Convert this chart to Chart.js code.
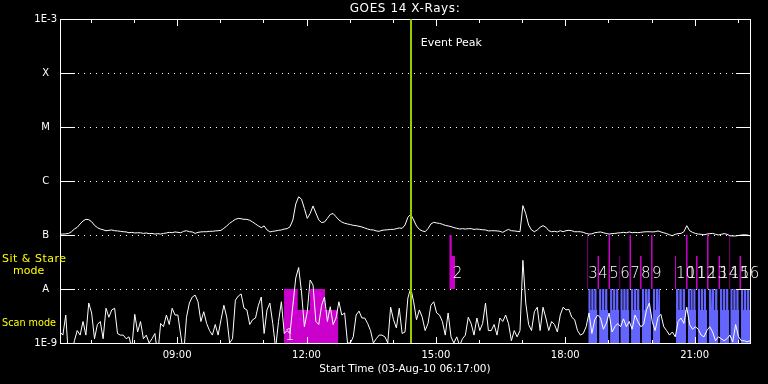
<!DOCTYPE html>
<html>
<head>
<meta charset="utf-8">
<script src="https://cdn.jsdelivr.net/npm/chart.js@4.4.0/dist/chart.umd.min.js"></script>
<style>
  html, body { margin: 0; padding: 0; background: #000; }
  canvas { display: block; }
</style>
</head>
<body>
<canvas id="goes" width="768" height="384"></canvas>
<script>
// GOES 14 X-ray flux, 03-Aug-2010, one sample every 4 minutes
const startTime = '06:17';
const endTime = '22:17';
const sampleMinutes = 4;

// 1-8 A channel, units of 1e-7 W/m2
const longFlux = [
  1.04, 1.04, 1.05, 1.07, 1.15, 1.29, 1.39, 1.60, 1.82, 1.95,
  1.92, 1.76, 1.51, 1.37, 1.29, 1.25, 1.20, 1.22, 1.24, 1.20,
  1.19, 1.17, 1.15, 1.14, 1.10, 1.12, 1.09, 1.10, 1.10, 1.07,
  1.09, 1.06, 1.07, 1.04, 1.06, 1.04, 1.07, 1.09, 1.12, 1.10,
  1.14, 1.12, 1.10, 1.17, 1.20, 1.15, 1.14, 1.07, 1.12, 1.14,
  1.15, 1.15, 1.17, 1.17, 1.19, 1.20, 1.22, 1.33, 1.47, 1.65,
  1.79, 1.95, 2.03, 2.00, 1.95, 1.95, 1.87, 1.74, 1.60, 1.47,
  1.37, 1.47, 1.24, 1.14, 1.17, 1.19, 1.22, 1.24, 1.29, 1.31,
  1.42, 1.90, 3.75, 5.10, 4.60, 3.10, 2.03, 2.50, 3.45, 2.55,
  1.90, 1.70, 1.74, 2.03, 2.40, 2.50, 2.18, 1.90, 1.74, 1.65,
  1.60, 1.56, 1.51, 1.49, 1.45, 1.41, 1.35, 1.29, 1.25, 1.24,
  1.19, 1.17, 1.22, 1.24, 1.25, 1.27, 1.27, 1.31, 1.35, 1.33,
  1.53, 2.13, 2.42, 1.90, 1.47, 1.27, 1.19, 1.15, 1.31, 1.60,
  1.72, 1.67, 1.64, 1.58, 1.51, 1.47, 1.43, 1.37, 1.33, 1.29,
  1.31, 1.29, 1.31, 1.31, 1.27, 1.29, 1.27, 1.25, 1.24, 1.19,
  1.20, 1.20, 1.19, 1.17, 1.12, 1.20, 1.27, 1.20, 1.19, 1.17,
  1.15, 3.50, 2.50, 1.53, 1.24, 1.15, 1.24, 1.39, 1.49, 1.39,
  1.20, 1.15, 1.17, 1.14, 1.20, 1.15, 1.20, 1.22, 1.20, 1.15,
  1.15, 1.15, 1.12, 1.07, 1.04, 1.05, 1.10, 1.12, 1.14, 1.10,
  1.07, 1.04, 1.06, 1.07, 1.09, 1.10, 1.12, 1.10, 1.14, 1.10,
  1.12, 1.10, 1.12, 1.14, 1.15, 1.15, 1.14, 1.15, 1.19, 1.14,
  1.10, 1.06, 1.01, 0.97, 1.03, 1.06, 1.07, 1.15, 1.49, 1.20,
  1.12, 1.07, 1.04, 1.03, 1.01, 1.04, 1.06, 1.07, 1.03, 1.00,
  1.03, 1.06, 1.03, 0.97, 0.96, 0.96, 0.98, 1.00, 1.01, 1.00,
  0.97
];

// 0.5-4 A channel, units of 1e-9 W/m2 (below 1 falls off the plot)
const shortFlux = [
  1.6, 1.4, 3.3, 0.5, 0.6, 1.1, 1.7, 1.4, 2.5, 1.4,
  5.5, 3.6, 1.2, 2.2, 2.5, 1.2, 4.4, 3.0, 4.1, 4.4,
  1.5, 1.4, 1.4, 1.2, 1.3, 0.8, 3.4, 1.6, 2.5, 1.2,
  1.4, 1.0, 1.2, 1.5, 0.6, 2.3, 2.0, 3.3, 2.2, 4.4,
  3.3, 3.3, 1.4, 0.6, 3.0, 5.5, 7.1, 7.7, 5.8, 2.5,
  3.8, 2.3, 1.7, 1.4, 2.2, 1.4, 2.7, 5.0, 3.0, 1.0,
  1.2, 6.2, 7.4, 8.1, 4.4, 4.1, 2.2, 2.7, 2.9, 5.0,
  7.1, 1.5, 4.1, 5.5, 2.3, 0.8, 2.5, 5.8, 1.5, 1.7,
  1.5, 5.0, 16, 25, 8.8, 2.0, 3.8, 14.7, 11.9, 2.5,
  2.2, 5.0, 7.1, 2.5, 4.7, 2.2, 2.9, 5.8, 3.3, 3.6,
  1.0, 1.0, 1.3, 3.3, 3.9, 2.9, 2.9, 2.3, 1.7, 1.0,
  1.2, 1.4, 1.4, 1.3, 1.0, 4.6, 2.7, 1.9, 4.4, 1.5,
  1.6, 6.8, 10.4, 5.8, 2.7, 4.1, 3.0, 1.7, 2.3, 5.0,
  5.8, 3.6, 3.3, 2.5, 1.4, 3.6, 1.3, 1.0, 1.3, 0.9,
  1.2, 1.4, 3.0, 2.3, 1.4, 2.9, 1.7, 2.3, 5.5, 1.7,
  1.7, 2.2, 1.4, 2.9, 2.5, 3.3, 2.3, 1.1, 1.7, 1.3,
  1.7, 34, 5.5, 2.2, 1.7, 3.8, 4.6, 1.7, 4.6, 2.9,
  1.7, 2.5, 2.2, 1.6, 3.3, 4.6, 4.1, 4.2, 3.0, 2.7,
  1.7, 1.4, 1.5, 2.0, 3.6, 1.5, 2.7, 3.3, 2.9, 1.8,
  2.3, 3.6, 1.6, 2.0, 2.3, 2.0, 2.8, 2.0, 2.5, 1.8,
  3.3, 2.5, 2.0, 2.2, 4.1, 5.5, 2.5, 1.7, 3.0, 3.4,
  2.0, 1.7, 1.4, 1.6, 1.3, 2.5, 2.9, 2.3, 4.6, 2.2,
  1.8, 2.0, 1.8, 1.4, 1.3, 1.7, 2.0, 1.6, 1.1, 1.3,
  1.2, 1.1, 1.2, 1.4, 1.05, 2.2, 1.3, 1.1, 1.1, 1.05,
  1.1
];

const eventPeakTime = '14:25';

// scan mode rasters: [time, level in 1e-9 W/m2], null = no scan
const scanSteps = [
  ['18:32.0', 10], ['18:35.1', 4.1], ['18:36.2', 10], ['18:39.3', 4.1], ['18:40.4', 10], ['18:43.5', 4.1], ['18:44.6', null],
  ['18:47.0', 10], ['18:50.1', 4.1], ['18:51.2', 10], ['18:54.3', 4.1], ['18:55.4', 10], ['18:58.5', 4.1], ['18:59.9', null],
  ['19:02.3', 10], ['19:05.4', 4.1], ['19:06.5', 10], ['19:09.6', 4.1], ['19:10.7', 10], ['19:13.8', 4.1], ['19:15.2', null],
  ['19:16.6', 10], ['19:19.7', 4.1], ['19:20.8', 10], ['19:23.9', 4.1], ['19:25.0', 10], ['19:28.1', 4.1], ['19:29.1', null],
  ['19:31.5', 10], ['19:34.6', 4.1], ['19:35.7', 10], ['19:38.8', 4.1], ['19:39.9', 10], ['19:43.0', 4.1], ['19:44.0', null],
  ['19:46.4', 10], ['19:49.5', 4.1], ['19:50.6', 10], ['19:53.7', 4.1], ['19:54.8', 10], ['19:57.9', 4.1], ['19:59.3', null],
  ['20:01.7', 10], ['20:04.8', 4.1], ['20:05.9', 10], ['20:09.0', 4.1], ['20:10.1', 10], ['20:11.8', null],
  ['20:34.1', 10], ['20:37.5', 4.1], ['20:38.7', 10], ['20:42.1', 4.1], ['20:43.3', 10], ['20:46.7', 4.1], ['20:48.0', null],
  ['20:50.4', 10], ['20:53.3', 4.1], ['20:54.3', 10], ['20:57.2', 4.1], ['20:58.2', 10], ['21:01.1', 4.1], ['21:01.9', null],
  ['21:04.3', 10], ['21:07.4', 4.1], ['21:08.5', 10], ['21:11.6', 4.1], ['21:12.7', 10], ['21:15.8', 4.1], ['21:17.2', null],
  ['21:19.6', 10], ['21:22.8', 4.1], ['21:24.0', 10], ['21:27.2', 4.1], ['21:28.4', 10], ['21:31.6', 4.1], ['21:32.9', null],
  ['21:35.3', 10], ['21:38.4', 4.1], ['21:39.5', 10], ['21:42.6', 4.1], ['21:43.7', 10], ['21:46.8', 4.1], ['21:48.2', null],
  ['21:49.6', 10], ['21:52.7', 4.1], ['21:53.8', 10], ['21:56.9', 4.1], ['21:58.0', 10], ['22:01.1', 4.1], ['22:02.1', null],
  ['22:04.5', 10], ['22:07.6', 4.1], ['22:08.7', 10], ['22:11.8', 4.1], ['22:12.9', 10], ['22:16.0', 4.1], ['22:17.0', null]
];

// first sit & stare run, drawn in the scan band (1e-9 W/m2)
const firstRunSteps = [
  ['11:28.7', 10], ['11:47.7', 4.1], ['12:04.8', 10], ['12:25.7', 4.1], ['12:44.2', null]
];

// later sit & stare runs, sit band (levels in 1e-8 W/m2)
const sitSteps = [
  ['15:18.6', 10], ['15:22.0', 4.1], ['15:26.6', null],
  ['18:30.6', 10], ['18:32.0', null],
  ['18:44.6', 4.1], ['18:47.0', null],
  ['18:59.9', 10], ['19:02.3', null],
  ['19:15.2', 4.1], ['19:16.6', null],
  ['19:29.1', 10], ['19:31.5', null],
  ['19:44.0', 4.1], ['19:46.4', null],
  ['19:59.3', 10], ['20:01.7', null],
  ['20:32.7', 4.1], ['20:34.1', null],
  ['20:48.0', 10], ['20:50.4', null],
  ['21:01.9', 4.1], ['21:04.3', null],
  ['21:17.2', 10], ['21:19.6', null],
  ['21:32.9', 4.1], ['21:35.3', null],
  ['21:48.2', 10], ['21:49.6', null],
  ['22:02.1', 4.1], ['22:04.5', null]
];

const runNumbers = ['1', '2', '3', '4', '5', '6', '7', '8', '9', '10', '11', '12', '13', '14', '15', '16'];
const runTimes = ['11:28.7', '15:22.0', '18:30.6', '18:44.6', '18:59.9', '19:15.2', '19:29.1', '19:44.0',
  '19:59.3', '20:32.7', '20:48.0', '21:01.9', '21:17.2', '21:32.9', '21:48.2', '22:02.1'];
const runBands = ['scan', 'sit', 'sit', 'sit', 'sit', 'sit', 'sit', 'sit',
  'sit', 'sit', 'sit', 'sit', 'sit', 'sit', 'sit', 'sit'];

const hourTicks = [7, 8, 9, 10, 11, 12, 13, 14, 15, 16, 17, 18, 19, 20, 21, 22];
const yTickValues = [1e-9, 1e-8, 1e-7, 1e-6, 1e-5, 1e-4, 1e-3];
const yTickLabels = ['1E-9', 'A', 'B', 'C', 'M', 'X', '1E-3'];

function toHours(s) {
  const [h, m] = s.split(':');
  return Number(h) + parseFloat(m) / 60;
}

function fluxPoints(values, unit) {
  const t0 = toHours(startTime);
  return values.map((v, i) => ({x: t0 + i * sampleMinutes / 60, y: v * unit}));
}

function stepPoints(steps, unit) {
  const pts = [];
  for (let i = 0; i < steps.length - 1; i++) {
    const [t, v] = steps[i];
    if (v === null) continue;
    const tEnd = toHours(steps[i + 1][0]);
    pts.push({x: toHours(t), y: v * unit}, {x: tEnd, y: v * unit});
    if (steps[i + 1][1] === null) pts.push({x: tEnd, y: null});
  }
  return pts;
}

const FONT = "'DejaVu Sans', sans-serif";
const MAGENTA = '#cc00cc';
const BLUE = '#6464ff';

const decorations = {
  id: 'decorations',
  beforeDraw(chart) {
    const ctx = chart.ctx;
    ctx.save();
    ctx.fillStyle = '#000';
    ctx.fillRect(0, 0, chart.width, chart.height);
    ctx.restore();
  },
  beforeDatasetsDraw(chart) {
    const {ctx, chartArea: a, scales: {y}} = chart;
    ctx.save();
    ctx.fillStyle = '#fff';
    yTickValues.slice(1, -1).forEach(v => {
      const yp = Math.round(y.getPixelForValue(v));
      for (let xd = a.left + 18; xd < a.right - 15; xd += 6) ctx.fillRect(xd, yp, 1, 1);
    });
    ctx.restore();
  },
  afterDatasetsDraw(chart) {
    const {ctx, chartArea: a, scales: {x, y}} = chart;
    ctx.save();
    ctx.fillStyle = '#fff';
    // frame
    ctx.fillRect(a.left, a.top, a.right - a.left + 1, 1);
    ctx.fillRect(a.left, a.bottom, a.right - a.left + 1, 1);
    ctx.fillRect(a.left, a.top, 1, a.bottom - a.top + 1);
    ctx.fillRect(a.right, a.top, 1, a.bottom - a.top + 1);
    // inner y ticks
    yTickValues.slice(1, -1).forEach(v => {
      const yp = Math.round(y.getPixelForValue(v));
      ctx.fillRect(a.left, yp, 15, 1);
      ctx.fillRect(a.right - 14, yp, 15, 1);
    });
    // inner x ticks
    hourTicks.forEach(h => {
      const xp = Math.round(x.getPixelForValue(h));
      const len = h % 3 === 0 ? 7 : 4;
      ctx.fillRect(xp, a.top, 1, len);
      ctx.fillRect(xp, a.bottom - len + 1, 1, len);
    });
    // event peak
    const xe = Math.round(x.getPixelForValue(toHours(eventPeakTime)));
    ctx.fillStyle = '#99cc00';
    ctx.fillRect(xe - 1, a.top, 2, a.bottom - a.top);
    // run numbers
    ctx.fillStyle = '#fff';
    ctx.font = '200 15px ' + FONT;
    ctx.textAlign = 'left';
    ctx.textBaseline = 'alphabetic';
    runNumbers.forEach((n, i) => {
      const level = runBands[i] === 'scan' ? 1.15e-9 : 1.6e-8;
      ctx.fillText(n, x.getPixelForValue(toHours(runTimes[i])) + 1, y.getPixelForValue(level));
    });
    ctx.restore();
  },
  afterDraw(chart) {
    const {ctx, chartArea: a, scales: {x, y}} = chart;
    ctx.save();
    ctx.textBaseline = 'middle';
    ctx.fillStyle = '#fff';
    ctx.textAlign = 'center';
    ctx.font = '12px ' + FONT;
    ctx.letterSpacing = '0.6px';
    ctx.fillText('GOES 14 X-Rays:', (a.left + a.right) / 2, 9);
    ctx.letterSpacing = '0px';
    ctx.textAlign = 'left';
    ctx.font = '11px ' + FONT;
    const xe = x.getPixelForValue(toHours(eventPeakTime));
    ctx.fillText('Event Peak', xe + 10, 43);
    ctx.fillStyle = '#ffff00';
    const sitMid = (y.getPixelForValue(1e-7) + y.getPixelForValue(1e-8)) / 2;
    const scanMid = (y.getPixelForValue(1e-8) + y.getPixelForValue(1e-9)) / 2;
    ctx.font = '11px ' + FONT;
    ctx.letterSpacing = '0.5px';
    ctx.fillText('Sit & Stare', 2, sitMid - 3);
    ctx.letterSpacing = '0px';
    ctx.fillText('mode', 13, sitMid + 9.5);
    ctx.fillText('Scan mode', 2, scanMid + 7.5, 54);
    ctx.restore();
  }
};

const lineStyle = {borderColor: '#fff', borderWidth: 1, pointRadius: 0, fill: false, tension: 0};
const barStyle = {borderColor: 'rgba(0,0,0,0)', borderWidth: 0, pointRadius: 0, tension: 0};

new Chart(document.getElementById('goes'), {
  type: 'line',
  data: {
    datasets: [
      {label: '1-8 A', data: fluxPoints(longFlux, 1e-7), ...lineStyle},
      {label: '0.5-4 A', data: fluxPoints(shortFlux, 1e-9), ...lineStyle},
      {label: 'Scan mode', data: stepPoints(scanSteps, 1e-9), ...barStyle, backgroundColor: BLUE, fill: 'start'},
      {label: 'Sit & Stare 1', data: stepPoints(firstRunSteps, 1e-9), ...barStyle, backgroundColor: MAGENTA, fill: 'start'},
      {label: 'Sit & Stare', data: stepPoints(sitSteps, 1e-8), ...barStyle, backgroundColor: MAGENTA, fill: {value: 1e-8}}
    ]
  },
  options: {
    responsive: false,
    animation: false,
    events: [],
    layout: {padding: {top: 19, right: 18, left: 0, bottom: 0}},
    plugins: {legend: {display: false}, tooltip: {enabled: false}},
    scales: {
      x: {
        type: 'linear',
        min: toHours(startTime),
        max: toHours(endTime),
        afterBuildTicks: scale => { scale.ticks = hourTicks.map(v => ({value: v})); },
        afterFit: scale => { scale.height = 41; },
        grid: {display: false, drawTicks: false},
        border: {display: false},
        ticks: {
          color: '#fff',
          font: {family: FONT, size: 10},
          padding: 6,
          maxRotation: 0,
          autoSkip: false,
          callback: v => v % 3 === 0 ? String(v).padStart(2, '0') + ':00' : ''
        },
        title: {
          display: true,
          text: 'Start Time (03-Aug-10 06:17:00)',
          color: '#fff',
          font: {family: FONT, size: 10.5},
          padding: {top: 0, bottom: 8}
        }
      },
      y: {
        type: 'logarithmic',
        min: 1e-9,
        max: 1e-3,
        afterBuildTicks: scale => { scale.ticks = yTickValues.map(v => ({value: v})); },
        afterFit: scale => { scale.width = 60; },
        grid: {display: false, drawTicks: false},
        border: {display: false},
        ticks: {
          color: '#fff',
          font: {family: FONT, size: 10},
          padding: 3,
          crossAlign: 'center',
          autoSkip: false,
          callback: (v, i) => yTickLabels[i]
        }
      }
    }
  },
  plugins: [decorations]
});
</script>
</body>
</html>
